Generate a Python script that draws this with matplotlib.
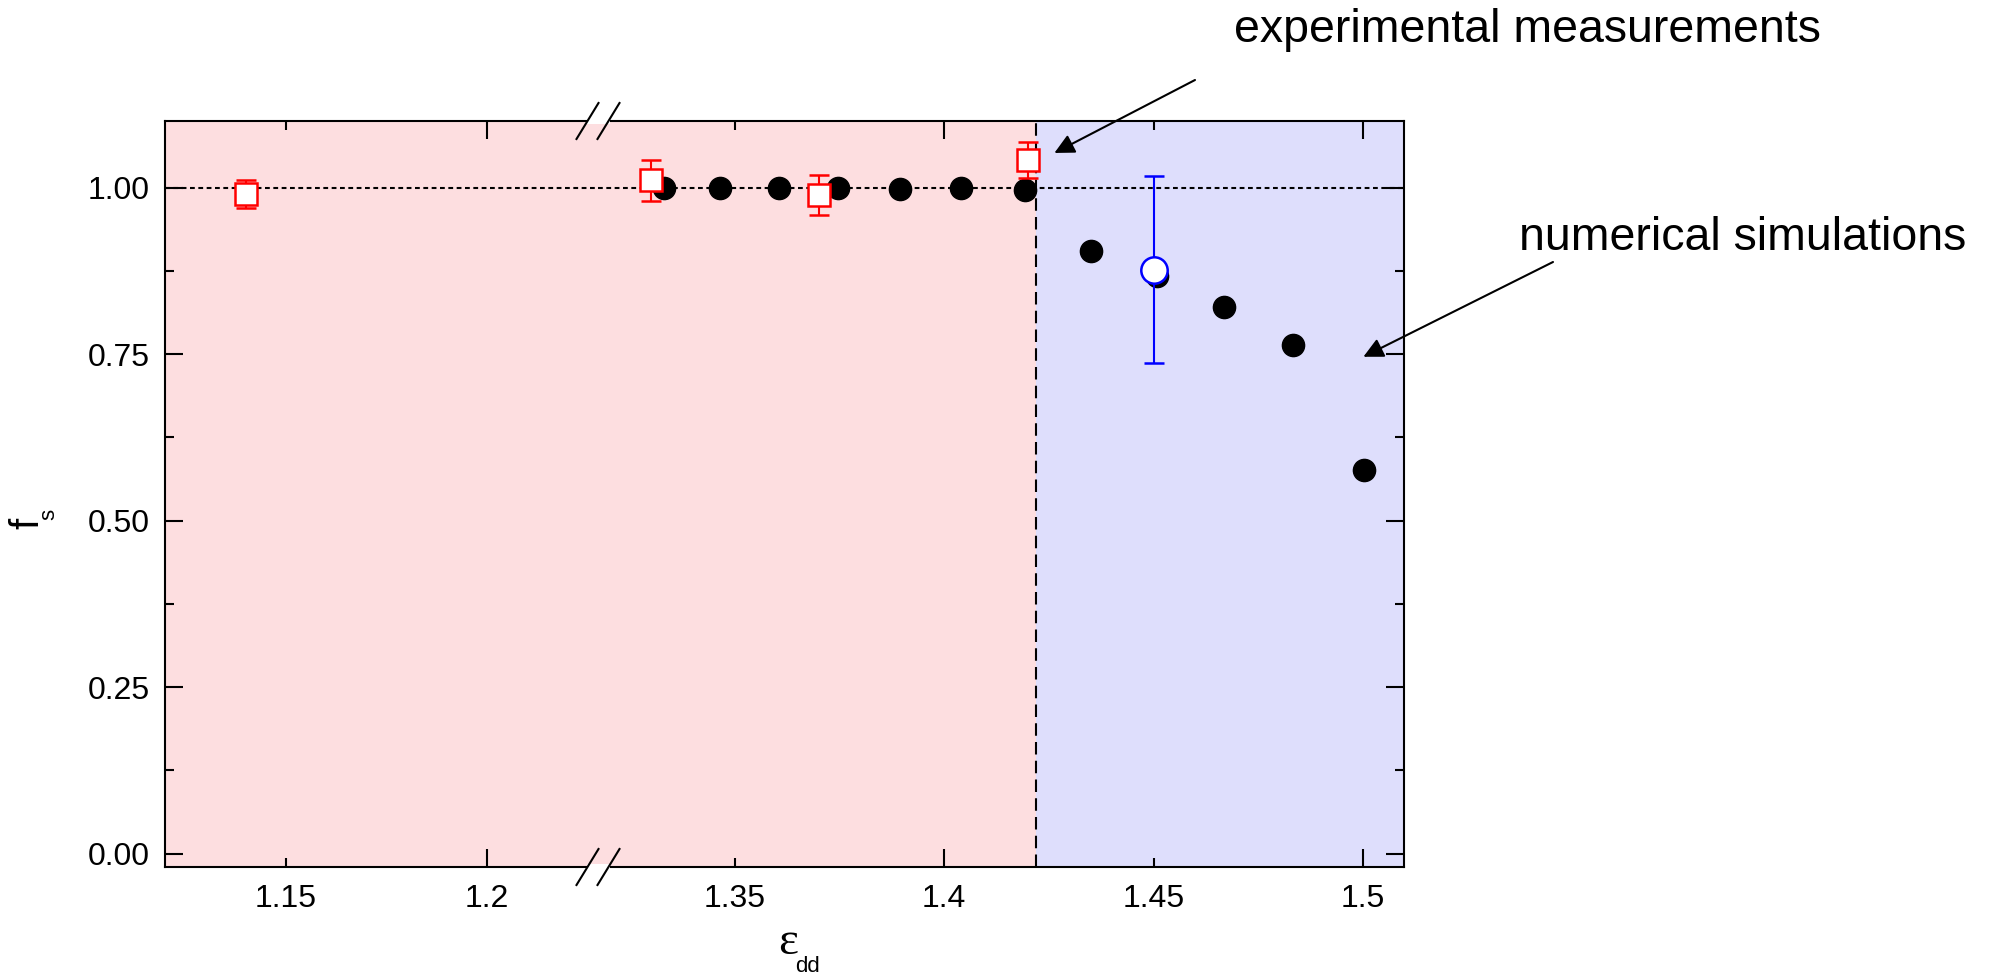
import matplotlib
matplotlib.use("Agg")
import matplotlib.pyplot as plt
from matplotlib.patches import Polygon
from matplotlib.lines import Line2D

plt.rcParams['font.family'] = ['Liberation Sans', 'DejaVu Sans']

# ---------------- data ----------------
sim_x = [1.333, 1.3465, 1.3606, 1.3746, 1.3895, 1.404, 1.4194, 1.4351, 1.4509, 1.4668, 1.4834, 1.5003]
sim_y = [1.0, 1.0, 1.0, 0.999, 0.998, 0.999, 0.997, 0.905, 0.868, 0.821, 0.764, 0.576]

exp_x = [1.14, 1.33, 1.37, 1.42]
exp_y = [0.99, 1.011, 0.989, 1.041]
exp_err = [0.021, 0.031, 0.030, 0.027]

blue_x = [1.45]
blue_y = [0.877]
blue_err = [0.14]

threshold = 1.422          # boundary between regions
ref_level = 1.0            # dotted horizontal reference

xlim_left = (1.1199, 1.2276)
xlim_right = (1.3173, 1.5098)
ylim = (-0.02, 1.10)

ticks_left_major, ticks_left_minor = [1.2], [1.15]
ticks_right_major, ticks_right_minor = [1.4, 1.5], [1.35, 1.45]
yticks_major = [0.0, 0.25, 0.5, 0.75, 1.0]
yticks_minor = [0.125, 0.375, 0.625, 0.875]

pink = '#FDDEE0'
blue_bg = '#DEDEFC'

W, Hpx = 1997, 980
fig = plt.figure(figsize=(W / 100, Hpx / 100), dpi=100)

left_px, break_px, right_px = 165, 598, 1404
top_px, bot_px = 121, 867
B = 1 - bot_px / Hpx
Hh = (bot_px - top_px) / Hpx
axL = fig.add_axes([left_px / W, B, (break_px - left_px) / W, Hh])
axR = fig.add_axes([break_px / W, B, (right_px - break_px) / W, Hh], sharey=axL)


def fmt(v):
    return ('%.2f' % v).rstrip('0') if v != int(v) else '%g' % v


for ax, xl, maj, mino in [(axL, xlim_left, ticks_left_major, ticks_left_minor),
                          (axR, xlim_right, ticks_right_major, ticks_right_minor)]:
    ax.set_xlim(*xl)
    ax.set_ylim(*ylim)
    ax.axvspan(xl[0], min(threshold, xl[1]), color=pink, zorder=0, lw=0)
    if threshold < xl[1]:
        ax.axvspan(threshold, xl[1], color=blue_bg, zorder=0, lw=0)
        ax.axvline(threshold, color='black', lw=1.5, ls=(0, (6, 3)), zorder=1)
    ax.axhline(ref_level, color='black', lw=1.5, ls=(0, (2.3, 1.7)), zorder=1)
    ax.set_xticks(maj, labels=[fmt(v) for v in maj])
    ax.set_xticks(mino, labels=[fmt(v) for v in mino], minor=True)
    for s in ax.spines.values():
        s.set_linewidth(1.5)
    ax.tick_params(axis='x', which='both', direction='in', top=True, bottom=True,
                   labelsize=23, pad=12, width=1.5)
    ax.tick_params(axis='x', which='major', length=13)
    ax.tick_params(axis='x', which='minor', length=6.5)

    # simulation (black dots), single blue point, experimental (red squares)
    ax.plot(sim_x, sim_y, 'o', color='black', ms=16, zorder=3)
    ax.errorbar(blue_x, blue_y, yerr=blue_err, fmt='o', ms=19, mfc='white', mec='blue',
                mew=1.8, ecolor='blue', elinewidth=1.5, capsize=7, capthick=1.5, zorder=4)
    ax.errorbar(exp_x, exp_y, yerr=exp_err, fmt='s', ms=16, mfc='white', mec='red',
                mew=1.8, ecolor='red', elinewidth=1.5, capsize=7, capthick=1.5, zorder=5)

axL.spines['right'].set_visible(False)
axR.spines['left'].set_visible(False)

axL.set_yticks(yticks_major, labels=['%.2f' % v for v in yticks_major])
axL.set_yticks(yticks_minor, minor=True)
axL.tick_params(axis='y', which='both', direction='in', left=True, right=False,
                labelsize=23, pad=11, width=1.5)
axL.tick_params(axis='y', which='major', length=13)
axL.tick_params(axis='y', which='minor', length=6.5)
axR.tick_params(axis='y', which='both', direction='in', left=False, right=True,
                labelleft=False, labelright=False, width=1.5)
axR.tick_params(axis='y', which='major', length=13)
axR.tick_params(axis='y', which='minor', length=6.5)


# ---------------- axis break marks ----------------
def fx(px):
    return px / W


def fy(py):
    return 1 - py / Hpx


for spine_y in (top_px, bot_px):
    d = 18
    gap = Polygon([(fx(break_px - 11), fy(spine_y + 3)), (fx(break_px + 12), fy(spine_y + 3)),
                   (fx(break_px + 12), fy(spine_y - 3)), (fx(break_px - 11), fy(spine_y - 3))],
                  closed=True, transform=fig.transFigure, facecolor='white', edgecolor='none',
                  zorder=10, clip_on=False)
    fig.add_artist(gap)
    for off in (-10.5, 10.5):
        cx = break_px + off
        fig.add_artist(Line2D([fx(cx - 11), fx(cx + 11)], [fy(spine_y + d), fy(spine_y - d)],
                              transform=fig.transFigure, color='black', lw=1.5, zorder=11))

# ---------------- axis labels ----------------
fig.text(fx(788), fy(943), 'ε', family=['Liberation Serif', 'DejaVu Serif'], fontsize=34,
         ha='center', va='center')
fig.text(fx(795), fy(972), 'dd', fontsize=16, ha='left', va='baseline')
fig.text(fx(27), fy(523), 'f', fontsize=29, rotation=90, ha='center', va='center')
fig.text(fx(49), fy(514), 's', fontsize=16, rotation=90, ha='center', va='center')

# ---------------- annotations ----------------
fig.text(fx(1527), fy(30), 'experimental measurements', fontsize=33.5, ha='center', va='center')
fig.text(fx(1743), fy(238), 'numerical simulations', fontsize=33.5, ha='center', va='center')

arrow_kw = dict(arrowstyle='-|>', color='black', lw=1.5, mutation_scale=30, shrinkA=0, shrinkB=0)
axR.annotate('', xy=(1.4263, 1.052), xycoords='data', xytext=(fx(1195), fy(80)),
             textcoords='figure fraction', arrowprops=arrow_kw, annotation_clip=False)
axR.annotate('', xy=(1.5001, 0.746), xycoords='data', xytext=(fx(1553), fy(262)),
             textcoords='figure fraction', arrowprops=arrow_kw, annotation_clip=False)

fig.savefig('out.png', dpi=100)
